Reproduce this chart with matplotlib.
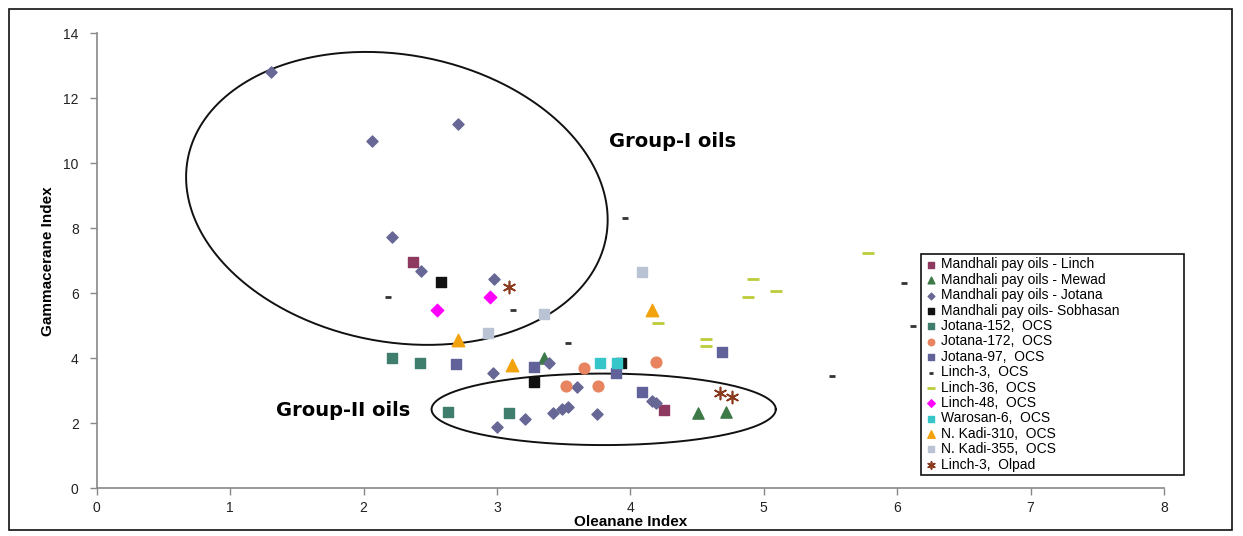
import numpy as np
import matplotlib
matplotlib.use("Agg")
import matplotlib.pyplot as plt
from matplotlib.patches import Rectangle

# ---------------- data ----------------
linch_x = [2.37, 4.25]
linch_y = [6.95, 2.41]

mewad_x = [3.35, 4.51, 4.72]
mewad_y = [4.00, 2.33, 2.36]

jotana_x = [1.31, 2.71, 2.06, 2.21, 2.43, 2.98, 2.97, 3.39, 3.60, 3.00, 3.21,
            3.42, 3.49, 3.53, 3.75, 4.16, 4.19]
jotana_y = [12.82, 11.21, 10.70, 7.74, 6.69, 6.43, 3.54, 3.87, 3.11, 1.90, 2.12,
            2.31, 2.43, 2.49, 2.29, 2.70, 2.62]

sobhasan_x = [2.58, 3.28, 3.93]
sobhasan_y = [6.36, 3.28, 3.87]

j152_x = [2.21, 2.42, 2.63, 3.09]
j152_y = [4.02, 3.87, 2.34, 2.31]

j172_x = [3.65, 3.52, 3.76, 4.19]
j172_y = [3.69, 3.15, 3.16, 3.90]

j97_x = [2.69, 3.28, 3.89, 4.09, 4.69]
j97_y = [3.82, 3.74, 3.56, 2.95, 4.20]

l3ocs_x = [2.18, 3.12, 3.53, 3.96, 6.05, 6.12, 5.51]
l3ocs_y = [5.90, 5.49, 4.46, 8.32, 6.33, 4.99, 3.46]

l36_x = [5.78, 4.92, 5.09, 4.88, 4.21, 4.57, 4.57]
l36_y = [7.23, 6.43, 6.08, 5.88, 5.10, 4.58, 4.38]

l48_x = [2.95, 2.55]
l48_y = [5.89, 5.48]

warosan_x = [3.77, 3.90]
warosan_y = [3.87, 3.87]

nk310_x = [2.71, 3.11, 4.16]
nk310_y = [4.56, 3.79, 5.49]

nk355_x = [4.09, 3.35, 2.93]
nk355_y = [6.66, 5.35, 4.77]

olpad_x = [3.09, 4.67, 4.76]
olpad_y = [6.18, 2.92, 2.80]

x_ticks = [0, 1, 2, 3, 4, 5, 6, 7, 8]
y_ticks = [0, 2, 4, 6, 8, 10, 12, 14]

# ellipse annotations: centre (data), semi-axes (x units), screen angle (deg)
ell1 = dict(cx=2.25, cy=8.92, a=1.595, b=1.076, ang=-10.7)
ell2 = dict(cx=3.80, cy=2.43, a=1.29, b=0.268, ang=0.0)

# ---------------- figure ----------------
W, H = 1243, 536
fig = plt.figure(figsize=(W / 100, H / 100), dpi=100)
ax_rect = [96.7 / W, (H - 488.3) / H, 1067.3 / W, 455 / H]
ax = fig.add_axes(ax_rect)

series = [
    ("Mandhali pay oils - Linch", linch_x, linch_y, dict(marker="s", color="#8e3a60", s=55)),
    ("Mandhali pay oils - Mewad", mewad_x, mewad_y, dict(marker="^", color="#3d7a48", s=65)),
    ("Mandhali pay oils - Jotana", jotana_x, jotana_y, dict(marker="D", color="#676796", s=32)),
    ("Mandhali pay oils- Sobhasan", sobhasan_x, sobhasan_y, dict(marker="s", color="#111111", s=55)),
    ("Jotana-152,  OCS", j152_x, j152_y, dict(marker="s", color="#3f7d6c", s=55)),
    ("Jotana-172,  OCS", j172_x, j172_y, dict(marker="o", color="#e8845f", s=60)),
    ("Jotana-97,  OCS", j97_x, j97_y, dict(marker="s", color="#62629a", s=55)),
    ("Linch-3,  OCS", l3ocs_x, l3ocs_y, dict(marker="_", color="#333333", s=18, linewidths=2.0)),
    ("Linch-36,  OCS", l36_x, l36_y, dict(marker="_", color="#bccc3a", s=85, linewidths=2.0)),
    ("Linch-48,  OCS", l48_x, l48_y, dict(marker="D", color="#ff00ff", s=40)),
    ("Warosan-6,  OCS", warosan_x, warosan_y, dict(marker="s", color="#36c5c9", s=60)),
    ("N. Kadi-310,  OCS", nk310_x, nk310_y, dict(marker="^", color="#f2a20c", s=80)),
    ("N. Kadi-355,  OCS", nk355_x, nk355_y, dict(marker="s", color="#b9c3d3", s=60)),
    ("Linch-3,  Olpad", olpad_x, olpad_y, dict(marker=(6, 2, 0), color="#8b3a1e", s=75, linewidths=1.2)),
]

# draw Sobhasan first so that cyan squares overlap it
order = [3, 0, 1, 2, 4, 5, 6, 7, 8, 9, 10, 11, 12, 13]
handles = {}
for i in order:
    lab, xs, ys, kw = series[i]
    h = ax.scatter(xs, ys, label=lab, zorder=3, **kw)
    handles[i] = h

ax.set_xlim(0, 8)
ax.set_ylim(0, 14)
ax.set_xticks(x_ticks)
ax.set_yticks(y_ticks)

tick_font = dict(family=["Liberation Sans", "DejaVu Sans"], size=10)
ax.set_xticklabels([str(t) for t in x_ticks], **tick_font)
ax.set_yticklabels([str(t) for t in y_ticks], **tick_font)
ax.tick_params(axis="both", direction="out", length=5, width=1, color="#888888",
               labelcolor="#222222", pad=4)
ax.tick_params(axis="y", pad=8)
for sp in ["top", "right"]:
    ax.spines[sp].set_visible(False)
for sp in ["left", "bottom"]:
    ax.spines[sp].set_color("#888888")
    ax.spines[sp].set_linewidth(1.2)

lab_font = dict(family=["Liberation Sans Narrow", "Liberation Sans", "DejaVu Sans"],
                weight="bold", size=11)
ax.set_xlabel("Oleanane Index", labelpad=0, **lab_font)
ax.set_ylabel("Gammacerane Index", labelpad=6, **lab_font)


# ellipses
def draw_ellipse(p):
    px_x = ax_rect[2] * W / 8.0
    px_y = ax_rect[3] * H / 14.0
    r = px_y / px_x
    t = np.linspace(0, 2 * np.pi, 400)
    th = np.deg2rad(p["ang"])
    dx = p["a"] * np.cos(t) * np.cos(th) - p["b"] * np.sin(t) * np.sin(th)
    dy = p["a"] * np.cos(t) * np.sin(th) + p["b"] * np.sin(t) * np.cos(th)
    ax.plot(p["cx"] + dx, p["cy"] + dy / r, color="#111111", lw=1.4, zorder=2,
            clip_on=False)


draw_ellipse(ell1)
draw_ellipse(ell2)

grp_font = dict(family=["DejaVu Sans"], weight="bold", size=14)
ax.text(4.32, 10.66, "Group-I oils", ha="center", va="center", **grp_font)
ax.text(1.85, 2.40, "Group-II oils", ha="center", va="center", **grp_font)

leg = ax.legend([handles[i] for i in range(14)], [series[i][0] for i in range(14)],
                loc="lower left", bbox_to_anchor=(921 / W, (H - 475) / H, 263 / W, 223 / H),
                bbox_transform=fig.transFigure, mode="expand",
                prop=dict(family=["Liberation Sans", "DejaVu Sans"], size=10),
                frameon=True, fancybox=False, edgecolor="#111111", framealpha=1,
                borderpad=0.25, labelspacing=0.1, handletextpad=0.2,
                handlelength=1.0, markerscale=0.6, borderaxespad=0)
leg.get_frame().set_linewidth(1.2)

# outer border
fig.patches.append(Rectangle((9 / W, 6 / H), (1232 - 9) / W, (530 - 9) / H,
                             transform=fig.transFigure, fill=False,
                             edgecolor="#111111", lw=1.2))

fig.savefig("out.png", dpi=100)
